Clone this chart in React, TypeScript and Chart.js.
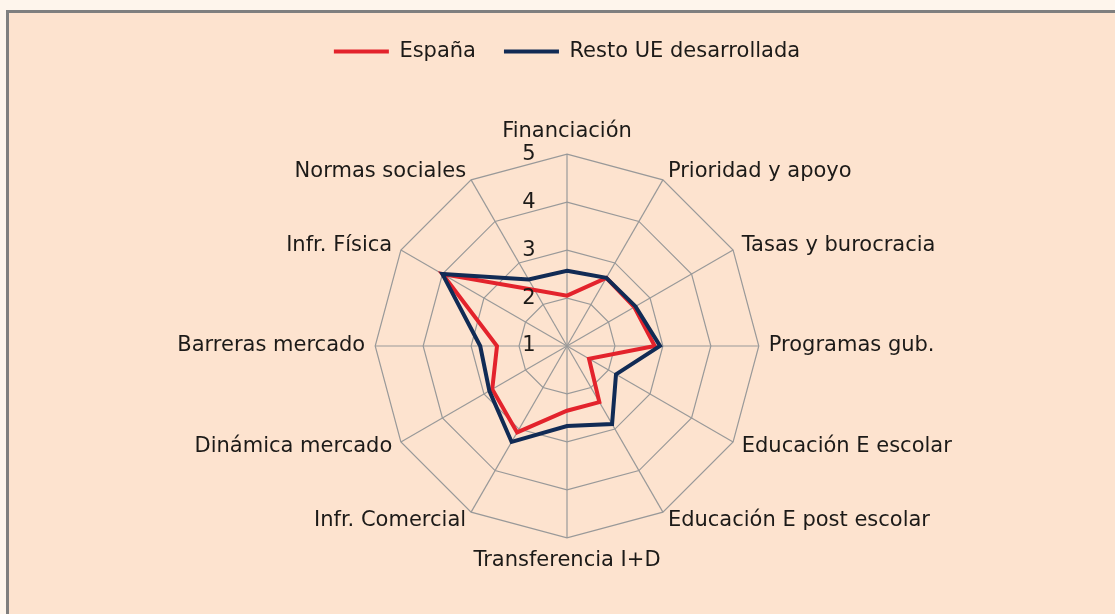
import React, { useEffect, useRef } from "react";
import { Chart, registerables } from "chart.js";

Chart.register(...registerables);

const categories = [
  "Financiación",
  "Prioridad y apoyo",
  "Tasas y burocracia",
  "Programas gub.",
  "Educación E escolar",
  "Educación E post escolar",
  "Transferencia I+D",
  "Infr. Comercial",
  "Dinámica mercado",
  "Barreras mercado",
  "Infr. Física",
  "Normas sociales",
];

const espana = [2.05, 2.64, 2.62, 2.83, 1.53, 2.35, 2.35, 3.08, 2.8, 2.46, 4.0, 2.35];
const restoUE = [2.57, 2.64, 2.65, 2.94, 2.18, 2.88, 2.67, 3.31, 2.87, 2.81, 4.0, 2.6];

const seriesNames = ["España", "Resto UE desarrollada"];
const scaleMin = 1;
const scaleMax = 5;
const scaleStep = 1;

const RED = "#E3232C";
const BLUE = "#112B55";
const GRID = "#999999";
const TEXT = "#1C1A18";
const FONT = '"DejaVu Sans", sans-serif';

const tickLabelPlugin = {
  id: "tickLabelsLeft",
  afterDraw(chart: any) {
    const s = chart.scales.r;
    const ctx = chart.ctx;
    ctx.save();
    ctx.font = `21px ${FONT}`;
    ctx.fillStyle = TEXT;
    ctx.textAlign = "center";
    ctx.textBaseline = "middle";
    s.ticks.forEach((t: any) => {
      const d = s.getDistanceFromCenterForValue(t.value);
      ctx.fillText(String(t.value), s.xCenter - 38, s.yCenter - d);
    });
    ctx.restore();
  },
};

export default function App() {
  const ref = useRef<HTMLCanvasElement>(null);

  useEffect(() => {
    if (!ref.current) return;
    const chart = new Chart(ref.current, {
      type: "radar",
      data: {
        labels: categories,
        datasets: [
          {
            label: seriesNames[0],
            data: espana,
            borderColor: RED,
            backgroundColor: RED,
            borderWidth: 4,
            fill: false,
            pointRadius: 0,
            order: 1,
          },
          {
            label: seriesNames[1],
            data: restoUE,
            borderColor: BLUE,
            backgroundColor: BLUE,
            borderWidth: 4,
            fill: false,
            pointRadius: 0,
            order: 0,
          },
        ],
      },
      options: {
        responsive: false,
        animation: false,
        layout: { padding: { left: 10, right: 0, top: 0, bottom: 40 } },
        elements: { line: { tension: 0 } },
        plugins: {
          tooltip: { enabled: false },
          legend: {
            position: "top",
            weight: 1000,
            labels: {
              usePointStyle: true,
              pointStyle: "line",
              pointStyleWidth: 55,
              padding: 28,
              color: TEXT,
              font: { family: FONT, size: 21 },
              sort: (a: any, b: any) => a.datasetIndex - b.datasetIndex,
            },
          },
          subtitle: {
            display: true,
            text: "",
            position: "top",
            weight: 500,
            font: { size: 10 },
            padding: { top: 0, bottom: 36 },
          },
        },
        scales: {
          r: {
            min: scaleMin,
            max: scaleMax,
            ticks: { display: false, stepSize: scaleStep },
            grid: { color: GRID, lineWidth: 1.2 },
            angleLines: { color: GRID, lineWidth: 1.2 },
            pointLabels: {
              color: TEXT,
              font: { family: FONT, size: 21 },
              padding: 10,
            },
            afterFit: (scale: any) => {
              const items = scale._pointLabelItems;
              if (!items) return;
              items.forEach((it: any, i: number) => {
                if (it.textAlign === "center") return;
                const pos = scale.getPointPosition(i, scale.drawingArea + 10);
                const h = it.bottom - it.top;
                it.y = pos.y - h / 2;
                it.top = it.y;
                it.bottom = it.y + h;
              });
            },
          } as any,
        },
      } as any,
      plugins: [tickLabelPlugin],
    });
    return () => chart.destroy();
  }, []);

  return (
    <div style={{ position: "fixed", inset: 0, background: "#FEF5EC", overflow: "hidden" }}>
      <div
        style={{
          position: "absolute",
          left: 6,
          top: 10,
          width: 1120,
          height: 620,
          borderLeft: "3px solid #7F7F7F",
          borderTop: "3px solid #7F7F7F",
          background: "#FDE3CF",
        }}
      >
        <canvas
          ref={ref}
          width={1106}
          height={601}
          style={{ position: "absolute", left: 0, top: 0, width: 1106, height: 601 }}
        />
      </div>
    </div>
  );
}
